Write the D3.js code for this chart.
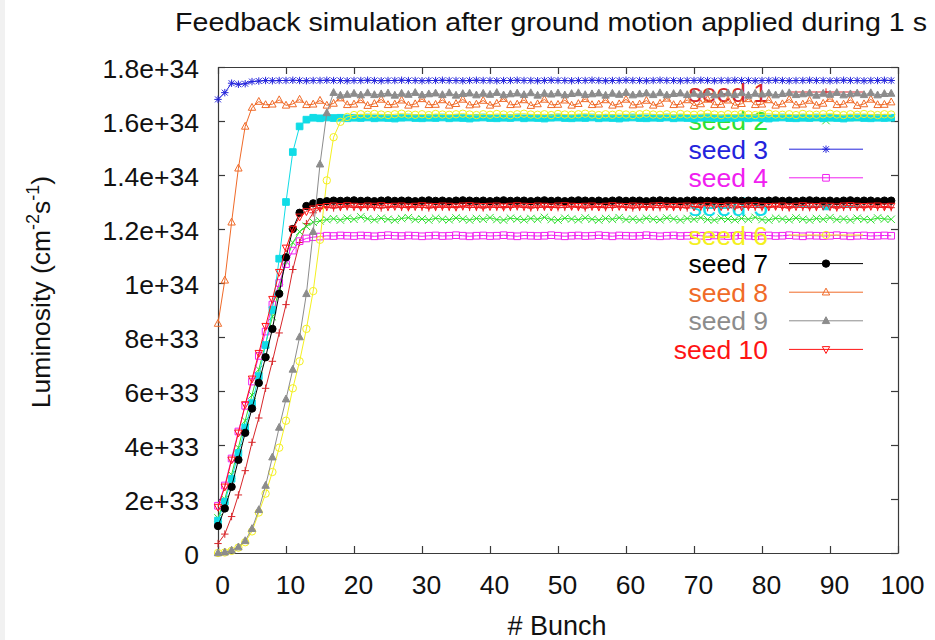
<!DOCTYPE html>
<html>
<head>
<meta charset="utf-8">
<script src="https://cdn.jsdelivr.net/npm/d3@7"></script>
<style>
  html, body { margin: 0; padding: 0; background: #ffffff; }
  svg { display: block; font-family: "Liberation Sans", Arial, sans-serif; }
</style>
</head>
<body>
<svg id="chart" width="935" height="640"></svg>
<script>
// Luminosity per bunch (units of 1e33 cm^-2 s^-1), bunches 0..99
const bunches = d3.range(0, 100);

const seed1 = [
  0.35,0.70,1.35,2.15,3.05,4.10,5.00,6.10,7.10,8.15,
  9.20,10.50,11.50,12.20,12.60,12.75,12.80,12.78,12.80,12.82,
  12.80,12.79,12.81,12.80,12.78,12.80,12.82,12.80,12.79,12.81,
  12.80,12.78,12.80,12.81,12.80,12.79,12.82,12.80,12.80,12.78,
  12.81,12.80,12.79,12.80,12.82,12.80,12.78,12.80,12.81,12.80,
  12.79,12.80,12.82,12.80,12.78,12.81,12.80,12.79,12.80,12.82,
  12.80,12.78,12.80,12.81,12.80,12.79,12.82,12.80,12.80,12.78,
  12.81,12.80,12.79,12.80,12.82,12.80,12.78,12.80,12.81,12.80,
  12.79,12.80,12.82,12.80,12.78,12.81,12.80,12.79,12.80,12.82,
  12.80,12.78,12.80,12.81,12.80,12.79,12.82,12.80,12.80,12.79
];
const seed2 = [
  1.30,2.00,2.90,3.90,4.90,5.85,6.80,7.75,8.75,9.80,
  10.80,11.50,11.90,12.10,12.25,12.30,12.35,12.38,12.33,12.40,
  12.36,12.45,12.38,12.34,12.40,12.36,12.33,12.39,12.42,12.35,
  12.37,12.33,12.40,12.36,12.34,12.41,12.37,12.33,12.39,12.36,
  12.42,12.35,12.33,12.40,12.37,12.34,12.39,12.36,12.43,12.35,
  12.33,12.40,12.37,12.34,12.41,12.36,12.33,12.39,12.36,12.42,
  12.35,12.37,12.33,12.40,12.36,12.34,12.41,12.37,12.33,12.39,
  12.36,12.42,12.35,12.33,12.40,12.37,12.34,12.39,12.36,12.43,
  12.35,12.33,12.40,12.37,12.34,12.41,12.36,12.33,12.39,12.36,
  12.42,12.35,12.37,12.33,12.40,12.36,12.34,12.41,12.37,12.36
];
const seed3 = [
  16.80,17.05,17.40,17.36,17.38,17.46,17.48,17.50,17.49,17.50,
  17.50,17.51,17.50,17.49,17.50,17.50,17.51,17.50,17.50,17.49,
  17.50,17.50,17.51,17.50,17.49,17.50,17.50,17.51,17.50,17.50,
  17.49,17.50,17.50,17.51,17.50,17.50,17.49,17.50,17.51,17.50,
  17.50,17.49,17.50,17.50,17.51,17.50,17.50,17.49,17.50,17.51,
  17.50,17.50,17.49,17.50,17.50,17.51,17.50,17.49,17.50,17.50,
  17.51,17.50,17.50,17.49,17.50,17.51,17.50,17.50,17.49,17.50,
  17.50,17.51,17.50,17.49,17.50,17.50,17.51,17.50,17.50,17.49,
  17.50,17.50,17.51,17.50,17.49,17.50,17.50,17.51,17.50,17.50,
  17.49,17.50,17.51,17.50,17.50,17.49,17.50,17.50,17.51,17.50
];
const seed4 = [
  1.75,2.50,3.50,4.50,5.45,6.35,7.30,8.20,9.20,10.00,
  10.70,11.20,11.55,11.65,11.70,11.72,11.75,11.74,11.76,11.75,
  11.74,11.76,11.75,11.73,11.75,11.77,11.75,11.74,11.76,11.75,
  11.73,11.75,11.76,11.74,11.75,11.77,11.75,11.73,11.75,11.76,
  11.74,11.75,11.77,11.75,11.73,11.76,11.75,11.74,11.75,11.77,
  11.75,11.73,11.75,11.76,11.74,11.75,11.77,11.75,11.73,11.76,
  11.75,11.74,11.75,11.77,11.75,11.73,11.75,11.76,11.74,11.75,
  11.77,11.75,11.73,11.76,11.75,11.74,11.75,11.77,11.75,11.73,
  11.75,11.76,11.74,11.75,11.77,11.75,11.73,11.76,11.75,11.74,
  11.75,11.77,11.75,11.73,11.75,11.76,11.74,11.75,11.76,11.75
];
const seed5 = [
  1.20,1.90,2.75,3.70,4.65,5.55,6.55,7.70,9.00,10.90,
  13.00,14.85,15.80,16.05,16.12,16.10,16.13,16.11,16.12,16.10,
  16.12,16.11,16.13,16.10,16.12,16.11,16.09,16.12,16.13,16.11,
  16.10,16.12,16.11,16.13,16.10,16.12,16.11,16.09,16.12,16.13,
  16.11,16.10,16.12,16.11,16.13,16.10,16.12,16.11,16.09,16.12,
  16.13,16.11,16.10,16.12,16.11,16.13,16.10,16.12,16.11,16.09,
  16.12,16.13,16.11,16.10,16.12,16.11,16.13,16.10,16.12,16.11,
  16.09,16.12,16.13,16.11,16.10,16.12,16.11,16.13,16.10,16.12,
  16.11,16.09,16.12,16.13,16.11,16.10,16.12,16.11,16.13,16.10,
  16.12,16.11,16.09,16.12,16.13,16.11,16.10,16.12,16.11,16.12
];
const seed6 = [
  0.00,0.02,0.08,0.20,0.40,0.80,1.50,2.20,3.00,3.90,
  4.90,6.10,7.10,8.30,9.70,11.60,13.80,15.40,15.97,16.15,
  16.22,16.25,16.23,16.26,16.24,16.22,16.25,16.27,16.24,16.23,
  16.25,16.22,16.26,16.24,16.23,16.25,16.27,16.24,16.22,16.25,
  16.23,16.26,16.24,16.22,16.25,16.27,16.24,16.23,16.25,16.22,
  16.26,16.24,16.23,16.25,16.27,16.24,16.22,16.25,16.23,16.26,
  16.24,16.22,16.25,16.27,16.24,16.23,16.25,16.22,16.26,16.24,
  16.23,16.25,16.27,16.24,16.22,16.25,16.23,16.26,16.24,16.22,
  16.25,16.27,16.24,16.23,16.25,16.22,16.26,16.24,16.23,16.25,
  16.27,16.24,16.22,16.25,16.23,16.26,16.24,16.22,16.25,16.24
];
const seed7 = [
  1.00,1.65,2.45,3.45,4.45,5.35,6.30,7.25,8.30,9.60,
  10.95,12.00,12.60,12.85,12.95,13.00,13.03,13.05,13.04,13.05,
  13.06,13.04,13.05,13.03,13.05,13.06,13.04,13.05,13.05,13.03,
  13.05,13.06,13.04,13.05,13.03,13.05,13.06,13.05,13.04,13.05,
  13.03,13.05,13.06,13.04,13.05,13.05,13.03,13.05,13.06,13.04,
  13.05,13.03,13.05,13.06,13.05,13.04,13.05,13.03,13.05,13.06,
  13.04,13.05,13.05,13.03,13.05,13.06,13.04,13.05,13.03,13.05,
  13.06,13.05,13.04,13.05,13.03,13.05,13.06,13.04,13.05,13.05,
  13.03,13.05,13.06,13.04,13.05,13.03,13.05,13.06,13.05,13.04,
  13.05,13.03,13.05,13.06,13.04,13.05,13.05,13.03,13.05,13.05
];
const seed8 = [
  8.50,10.10,12.25,14.25,15.80,16.50,16.72,16.60,16.62,16.78,
  16.58,16.63,16.80,16.60,16.62,16.76,16.58,16.65,16.85,16.60,
  16.62,16.78,16.57,16.64,16.80,16.60,16.62,16.77,16.58,16.63,
  16.82,16.60,16.61,16.78,16.58,16.64,16.80,16.59,16.62,16.76,
  16.58,16.65,16.83,16.60,16.62,16.78,16.57,16.63,16.80,16.60,
  16.61,16.77,16.58,16.64,16.82,16.60,16.62,16.78,16.58,16.63,
  16.80,16.59,16.62,16.76,16.58,16.65,16.84,16.60,16.62,16.78,
  16.57,16.63,16.80,16.60,16.61,16.77,16.58,16.64,16.82,16.60,
  16.62,16.78,16.58,16.63,16.80,16.59,16.62,16.76,16.58,16.65,
  16.83,16.60,16.62,16.78,16.57,16.63,16.80,16.60,16.61,16.70
];
const seed9 = [
  0.00,0.03,0.10,0.22,0.45,0.90,1.60,2.50,3.55,4.65,
  5.70,6.80,8.00,9.60,11.90,14.40,16.30,17.05,16.95,16.98,
  17.02,16.96,17.04,16.97,17.00,17.03,16.95,17.02,16.98,17.05,
  16.96,17.00,17.03,16.97,17.04,16.95,17.01,17.03,16.96,17.02,
  16.98,17.05,16.96,17.00,17.03,16.97,17.04,16.95,17.02,16.99,
  17.03,16.96,17.01,17.04,16.97,17.00,17.03,16.95,17.02,16.98,
  17.05,16.96,17.00,17.03,16.97,17.04,16.96,17.01,17.03,16.97,
  17.02,16.98,17.05,16.96,17.00,17.03,16.97,17.04,16.95,17.02,
  16.99,17.03,16.96,17.01,17.04,16.97,17.00,17.03,16.95,17.02,
  16.98,17.05,16.96,17.00,17.03,16.97,17.04,16.96,17.01,17.02
];
const seed10 = [
  1.70,2.45,3.45,4.45,5.50,6.45,7.40,8.40,9.40,10.40,
  11.30,12.00,12.45,12.65,12.75,12.80,12.84,12.86,12.84,12.87,
  12.85,12.83,12.86,12.85,12.87,12.84,12.85,12.86,12.83,12.85,
  12.87,12.85,12.84,12.86,12.85,12.83,12.86,12.87,12.85,12.84,
  12.85,12.86,12.83,12.85,12.87,12.85,12.84,12.86,12.85,12.83,
  12.86,12.87,12.85,12.84,12.85,12.86,12.83,12.85,12.87,12.85,
  12.84,12.86,12.85,12.83,12.86,12.87,12.85,12.84,12.85,12.86,
  12.83,12.85,12.87,12.85,12.84,12.86,12.85,12.83,12.86,12.87,
  12.85,12.84,12.85,12.86,12.83,12.85,12.87,12.85,12.84,12.86,
  12.85,12.83,12.86,12.87,12.85,12.84,12.85,12.86,12.83,12.85
];

const seedNames  = ["seed 1","seed 2","seed 3","seed 4","seed 5","seed 6","seed 7","seed 8","seed 9","seed 10"];
const seedValues = [seed1, seed2, seed3, seed4, seed5, seed6, seed7, seed8, seed9, seed10];
const seedColors = ["#d8262a","#2fe02f","#2424dc","#f020f0","#10dce6","#f4f020","#000000","#f06a28","#8c8c8c","#ff1414"];
const seedMarkers = ["plus","cross","star","square","squareFill","circle","circleFill","triangle","triangleFill","triangleDown"];

const xTicks = [0,10,20,30,40,50,60,70,80,90,100];
const yTicks = [0,2,4,6,8,10,12,14,16,18];
const yTickLabels = ["0","2e+33","4e+33","6e+33","8e+33","1e+34","1.2e+34","1.4e+34","1.6e+34","1.8e+34"];

const titleText = "Feedback simulation after ground motion applied during 1 s";
const xTitle = "# Bunch";

// ---------------------------------------------------------------
const svg = d3.select("#chart");
const plotLeft = 218, plotRight = 898, plotTop = 67, plotBottom = 553;
const labelSize = 26.5;

const x = d3.scaleLinear().domain([0, 100]).range([plotLeft, plotRight]);
const y = d3.scaleLinear().domain([0, 18]).range([plotBottom, plotTop]);

// faint strip at the left edge
svg.append("rect").attr("x", 0).attr("y", 0).attr("width", 5).attr("height", 640).attr("fill", "#f1f1f1");

// title
svg.append("text")
  .attr("x", 551).attr("y", 31)
  .attr("text-anchor", "middle")
  .attr("font-size", 25).attr("fill", "#111")
  .attr("textLength", 752).attr("lengthAdjust", "spacingAndGlyphs")
  .text(titleText);

// axes (ticks drawn inward, mirrored on top / right)
const axisColor = "#3a3a3a";
function styleAxis(g) {
  g.select(".domain").attr("stroke", axisColor).attr("stroke-width", 1.2);
  g.selectAll(".tick line").attr("stroke", axisColor).attr("stroke-width", 1.2);
  g.selectAll(".tick text").attr("font-size", labelSize).attr("fill", "#111")
    .attr("font-family", "'Liberation Sans', Arial, sans-serif");
}

svg.append("g").attr("transform", `translate(0,${plotBottom})`)
  .call(d3.axisBottom(x).tickValues(xTicks).tickSize(-7).tickPadding(22).tickSizeOuter(0).tickFormat(d3.format("d")))
  .call(styleAxis)
  .call(g => g.selectAll(".tick text").attr("dx", 4));

svg.append("g").attr("transform", `translate(0,${plotTop})`)
  .call(d3.axisTop(x).tickValues(xTicks).tickSize(-7).tickSizeOuter(0).tickFormat(""))
  .call(styleAxis);

svg.append("g").attr("transform", `translate(${plotLeft},0)`)
  .call(d3.axisLeft(y).tickValues(yTicks).tickSize(-7).tickPadding(19).tickSizeOuter(0)
    .tickFormat((d, i) => yTickLabels[i]))
  .call(styleAxis)
  .call(g => g.selectAll(".tick text").attr("dy", "0.40em"));

svg.append("g").attr("transform", `translate(${plotRight},0)`)
  .call(d3.axisRight(y).tickValues(yTicks).tickSize(-7).tickSizeOuter(0).tickFormat(""))
  .call(styleAxis);

// axis titles
svg.append("text")
  .attr("x", 557).attr("y", 635)
  .attr("text-anchor", "middle")
  .attr("font-size", 27).attr("fill", "#111")
  .text(xTitle);

const yt = svg.append("text")
  .attr("transform", "translate(50,292) rotate(-90)")
  .attr("text-anchor", "middle")
  .attr("font-size", labelSize).attr("fill", "#111");
yt.append("tspan").text("Luminosity (cm");
yt.append("tspan").attr("font-size", 18).attr("dy", -11).text("-2");
yt.append("tspan").attr("dy", 11).text("s");
yt.append("tspan").attr("font-size", 18).attr("dy", -11).text("-1");
yt.append("tspan").attr("dy", 11).text(")");

// point markers
function markerPath(type) {
  const s = 3.7;
  switch (type) {
    case "plus":   return `M${-s},0H${s}M0,${-s}V${s}`;
    case "cross":  return `M${-s},${-s}L${s},${s}M${-s},${s}L${s},${-s}`;
    case "star":   return `M${-s},0H${s}M0,${-s}V${s}M${-s*0.8},${-s*0.8}L${s*0.8},${s*0.8}M${-s*0.8},${s*0.8}L${s*0.8},${-s*0.8}`;
    case "square":
    case "squareFill": { const h = s * 0.9; return `M${-h},${-h}H${h}V${h}H${-h}Z`; }
    case "circle":
    case "circleFill": { const r = s; return `M${r},0A${r},${r} 0 1,1 ${-r},0A${r},${r} 0 1,1 ${r},0Z`; }
    case "triangle":
    case "triangleFill": return `M0,${-s*1.1}L${s},${s*0.75}L${-s},${s*0.75}Z`;
    case "triangleDown": return `M0,${s*1.1}L${s},${-s*0.75}L${-s},${-s*0.75}Z`;
  }
}
const filledTypes = new Set(["squareFill", "circleFill", "triangleFill"]);

const line = d3.line().x((d, i) => x(bunches[i])).y(d => y(d));

const legendX = 768, legendY0 = 92, legendStep = 28.6;
const sampleX1 = 789, sampleX2 = 863, sampleXm = 826;

seedNames.forEach((name, k) => {
  const col = seedColors[k];
  const type = seedMarkers[k];
  const fill = filledTypes.has(type) ? col : "none";
  const ly = legendY0 + k * legendStep;

  // key entry
  const key = svg.append("g");
  key.append("text")
    .attr("x", legendX).attr("y", ly).attr("dy", "0.36em")
    .attr("text-anchor", "end")
    .attr("font-size", labelSize).attr("fill", col)
    .text(name);
  key.append("line")
    .attr("x1", sampleX1).attr("x2", sampleX2).attr("y1", ly).attr("y2", ly)
    .attr("stroke", col).attr("stroke-width", 1);
  key.append("path")
    .attr("transform", `translate(${sampleXm},${ly})`)
    .attr("d", markerPath(type))
    .attr("fill", fill).attr("stroke", col).attr("stroke-width", 1);

  // curve and points
  const g = svg.append("g");
  g.append("path")
    .datum(seedValues[k])
    .attr("d", line)
    .attr("fill", "none").attr("stroke", col).attr("stroke-width", 1);
  g.selectAll("path.pt")
    .data(seedValues[k])
    .join("path")
    .attr("class", "pt")
    .attr("transform", (d, i) => `translate(${x(bunches[i])},${y(d)})`)
    .attr("d", markerPath(type))
    .attr("fill", fill).attr("stroke", col).attr("stroke-width", 1);
});
</script>
</body>
</html>
